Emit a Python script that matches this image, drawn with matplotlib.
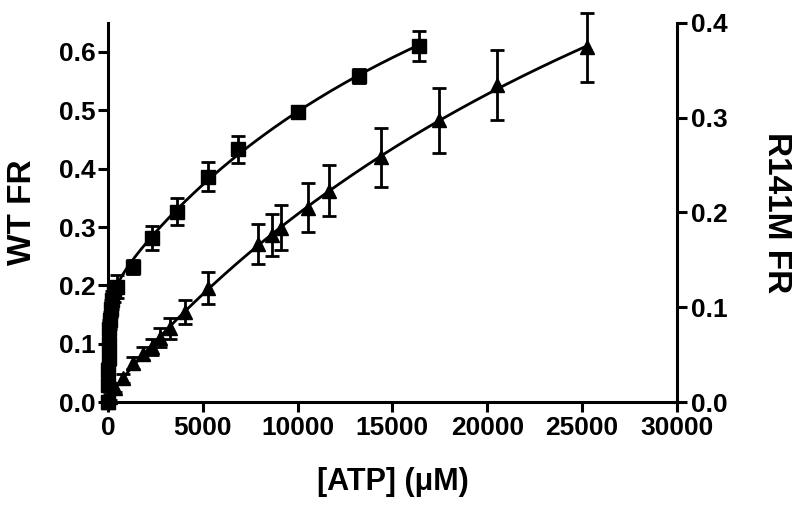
import numpy as np
from matplotlib import pyplot as plt

# WT (left axis, squares)
wt_atp = [0, 10, 20, 30, 50, 75, 100, 150, 200, 300, 500, 1320, 2320, 3630, 5260, 6840, 10000, 13260, 16420]
wt_fr = [0.0, 0.03, 0.055, 0.075, 0.10, 0.125, 0.14, 0.16, 0.175, 0.19, 0.198, 0.232, 0.281, 0.326, 0.386, 0.433, 0.497, 0.559, 0.610]
wt_err = [0.005, 0.01, 0.012, 0.012, 0.015, 0.015, 0.015, 0.015, 0.015, 0.018, 0.02, 0.012, 0.021, 0.023, 0.025, 0.023, 0.006, 0.012, 0.026]

# R141M (right axis, triangles)
r141m_atp = [0, 100, 370, 790, 1320, 1840, 2300, 2740, 3260, 4050, 5260, 7900, 8630, 9150, 10530, 11680, 14420, 17470, 20530, 25260]
r141m_fr = [0.0, 0.005, 0.015, 0.025, 0.041, 0.051, 0.058, 0.068, 0.078, 0.095, 0.12, 0.167, 0.176, 0.184, 0.205, 0.223, 0.258, 0.297, 0.334, 0.374]
r141m_err = [0.002, 0.003, 0.004, 0.005, 0.006, 0.007, 0.008, 0.01, 0.011, 0.013, 0.017, 0.021, 0.022, 0.024, 0.026, 0.027, 0.031, 0.034, 0.037, 0.036]

x_ticks = [0, 5000, 10000, 15000, 20000, 25000, 30000]
wt_ticks = [0.0, 0.1, 0.2, 0.3, 0.4, 0.5, 0.6]
r141m_ticks = [0.0, 0.1, 0.2, 0.3, 0.4]

FONT = "Liberation Sans"
LW = 2.2


def fit_two_site(x, y):
    # grid search over the two Kd values, amplitudes by least squares
    x = np.asarray(x, float)
    y = np.asarray(y, float)
    ks = np.logspace(0.5, 5.5, 90)
    best = None
    for i, k1 in enumerate(ks):
        for k2 in ks[i:]:
            a = np.column_stack([x / (k1 + x), x / (k2 + x)])
            coef, *_ = np.linalg.lstsq(a, y, rcond=None)
            if np.any(coef < 0):
                continue
            sse = np.sum((a @ coef - y) ** 2)
            if best is None or sse < best[0]:
                best = (sse, k1, k2, coef)
    _, k1, k2, coef = best
    return lambda t: coef[0] * t / (k1 + t) + coef[1] * t / (k2 + t)


plt.rcParams["font.family"] = [FONT, "DejaVu Sans"]
plt.rcParams["font.weight"] = "bold"

fig = plt.figure(figsize=(8, 5.07), dpi=100)
ax = fig.add_axes([0.135, 0.207, 0.711, 0.748])
ax2 = ax.twinx()

wt_fit = fit_two_site(wt_atp, wt_fr)
t = np.linspace(0, max(wt_atp), 2000)
ax.plot(t, wt_fit(t), color="black", lw=2.0, zorder=3)
ax.errorbar(wt_atp, wt_fr, yerr=wt_err, fmt="s", color="black", ms=10,
            capsize=5, capthick=2, elinewidth=2, zorder=4, clip_on=False)

r_fit = fit_two_site(r141m_atp, r141m_fr)
t2 = np.linspace(0, max(r141m_atp), 2000)
ax2.plot(t2, r_fit(t2), color="black", lw=2.0, zorder=3)
ax2.errorbar(r141m_atp, r141m_fr, yerr=r141m_err, fmt="^", color="black", ms=10,
             capsize=5, capthick=2, elinewidth=2, zorder=4, clip_on=False)

ax.set_xlim(0, 30000)
ax.set_ylim(0, 0.65)
ax2.set_ylim(0, 0.4)

ax.set_xticks(x_ticks)
ax.set_xticklabels([str(v) for v in x_ticks])
ax.set_yticks(wt_ticks)
ax.set_yticklabels([f"{v:.1f}" for v in wt_ticks])
ax2.set_yticks(r141m_ticks)
ax2.set_yticklabels([f"{v:.1f}" for v in r141m_ticks])

for a in (ax, ax2):
    a.spines["top"].set_visible(False)
    for s in a.spines.values():
        s.set_linewidth(LW)
    a.tick_params(width=LW, length=7, labelsize=19, pad=3)
ax.spines["right"].set_visible(False)
ax2.spines["left"].set_visible(False)
ax2.spines["bottom"].set_visible(False)
ax.tick_params(axis="y", pad=2)

ax.set_xlabel("[ATP] (μM)", fontsize=22, fontweight="bold", va="center")
ax.set_ylabel("WT FR", fontsize=24, fontweight="bold", va="center")
ax2.set_ylabel("R141M FR", fontsize=24, fontweight="bold", rotation=270, va="center")
ax.xaxis.set_label_coords(0.5, -0.211)
ax.yaxis.set_label_coords(-0.151, 0.5)
ax2.yaxis.set_label_coords(1.176, 0.5)

fig.savefig("out.png", dpi=100)
